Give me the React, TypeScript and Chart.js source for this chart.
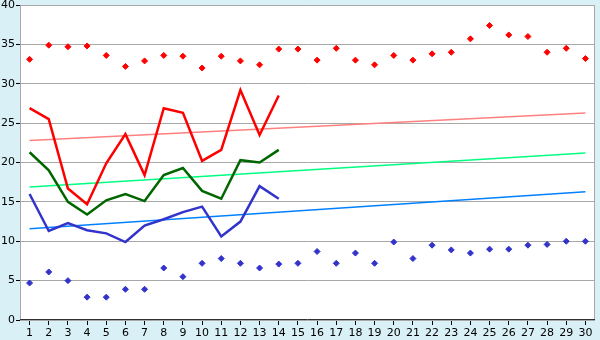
import React, { useEffect, useRef } from "react";
import { Chart, registerables } from "chart.js";

Chart.register(...registerables);

const days = Array.from({ length: 30 }, (_, i) => String(i + 1));

const highDots = [33.1, 34.9, 34.7, 34.8, 33.6, 32.2, 32.9, 33.6, 33.5, 32.0, 33.5, 32.9, 32.4, 34.4, 34.4, 33.0, 34.5, 33.0, 32.4, 33.6, 33.0, 33.8, 34.0, 35.7, 37.4, 36.2, 36.0, 34.0, 34.5, 33.2];
const lowDots = [4.7, 6.1, 5.0, 2.9, 2.9, 3.9, 3.9, 6.6, 5.5, 7.2, 7.8, 7.2, 6.6, 7.1, 7.2, 8.7, 7.2, 8.5, 7.2, 9.9, 7.8, 9.5, 8.9, 8.5, 9.0, 9.0, 9.5, 9.6, 10.0, 10.0];
const redLine = [26.9, 25.5, 16.7, 14.7, 19.9, 23.6, 18.4, 26.9, 26.3, 20.2, 21.6, 29.2, 23.5, 28.5];
const greenLine = [21.3, 19.0, 15.0, 13.4, 15.2, 16.0, 15.1, 18.4, 19.3, 16.4, 15.4, 20.3, 20.0, 21.6];
const blueLine = [16.0, 11.3, 12.3, 11.4, 11.0, 9.9, 12.0, 12.8, 13.7, 14.4, 10.6, 12.5, 17.0, 15.4];
const redTrend = [22.8, 26.3];
const greenTrend = [16.9, 21.2];
const blueTrend = [11.6, 16.3];
const yTicks = [0, 5, 10, 15, 20, 25, 30, 35, 40];

function endpoints(v: number[]) {
  return days.map((_, i) => (i === 0 ? v[0] : i === days.length - 1 ? v[1] : null));
}

const bgPlugin = {
  id: "bgPlugin",
  beforeDraw(chart: any) {
    const { ctx, chartArea: a, width, height } = chart;
    ctx.save();
    ctx.fillStyle = "#d9f0f7";
    ctx.fillRect(0, 0, width, height);
    ctx.fillStyle = "#ffffff";
    ctx.fillRect(a.left, a.top, a.right - a.left, a.bottom - a.top);
    ctx.restore();
  },
  afterDraw(chart: any) {
    const { ctx, chartArea: a } = chart;
    ctx.save();
    ctx.strokeStyle = "#a8a8a8";
    ctx.lineWidth = 1;
    ctx.beginPath();
    ctx.moveTo(a.left + 0.5, a.bottom);
    ctx.lineTo(a.left + 0.5, a.top + 0.5);
    ctx.lineTo(a.right - 0.5, a.top + 0.5);
    ctx.lineTo(a.right - 0.5, a.bottom);
    ctx.stroke();
    ctx.strokeStyle = "#303030";
    ctx.beginPath();
    ctx.moveTo(a.left, a.bottom - 0.5);
    ctx.lineTo(a.right, a.bottom - 0.5);
    ctx.stroke();
    ctx.restore();
  },
};

export default function App() {
  const ref = useRef<HTMLCanvasElement>(null);
  useEffect(() => {
    document.body.style.margin = "0";
    const font = { family: "DejaVu Sans", size: 11 };
    const chart = new Chart(ref.current!, {
      type: "line",
      data: {
        labels: days,
        datasets: [
          { data: redLine, borderColor: "#ff0000", borderWidth: 2.5, pointRadius: 0, tension: 0 },
          { data: greenLine, borderColor: "#006600", borderWidth: 2.5, pointRadius: 0, tension: 0 },
          { data: blueLine, borderColor: "#3333cc", borderWidth: 2.5, pointRadius: 0, tension: 0 },
          { data: highDots, showLine: false, pointStyle: "rectRot", pointRadius: 3, backgroundColor: "#ff0000", borderColor: "#ff0000", borderWidth: 1 },
          { data: lowDots, showLine: false, pointStyle: "rectRot", pointRadius: 3, backgroundColor: "#3333cc", borderColor: "#3333cc", borderWidth: 1 },
          { data: endpoints(redTrend), spanGaps: true, borderColor: "#ff8080", borderWidth: 1.5, pointRadius: 0 },
          { data: endpoints(greenTrend), spanGaps: true, borderColor: "#00ff80", borderWidth: 1.5, pointRadius: 0 },
          { data: endpoints(blueTrend), spanGaps: true, borderColor: "#0080ff", borderWidth: 1.5, pointRadius: 0 },
        ],
      },
      options: {
        animation: false,
        responsive: false,
        layout: { padding: { top: 5, right: 5, left: 0, bottom: 0 } },
        plugins: { legend: { display: false }, tooltip: { enabled: false } },
        scales: {
          x: {
            offset: true,
            grid: { drawOnChartArea: false, drawTicks: true, tickLength: 5, color: "#a8a8a8", tickColor: "#000", offset: false },
            border: { display: false },
            ticks: { color: "#000", font, padding: 2, maxRotation: 0, autoSkip: false },
            afterFit(s: any) { s.height = 20; s.paddingLeft = 0; s.paddingRight = 0; },
          },
          y: {
            min: 0,
            max: 40,
            afterBuildTicks(s: any) { s.ticks = yTicks.map((v) => ({ value: v })); },
            grid: { color: "#a8a8a8", tickLength: 4, tickColor: "#000" },
            border: { display: false },
            ticks: { color: "#000", font, padding: 1 },
            afterFit(s: any) { s.width = 20; s.paddingTop = 0; s.paddingBottom = 0; },
          },
        },
      },
      plugins: [bgPlugin],
    });
    return () => chart.destroy();
  }, []);
  return (
    <div style={{ position: "absolute", left: 0, top: 0, width: 600, height: 340 }}>
      <canvas ref={ref} width={600} height={340} />
    </div>
  );
}
